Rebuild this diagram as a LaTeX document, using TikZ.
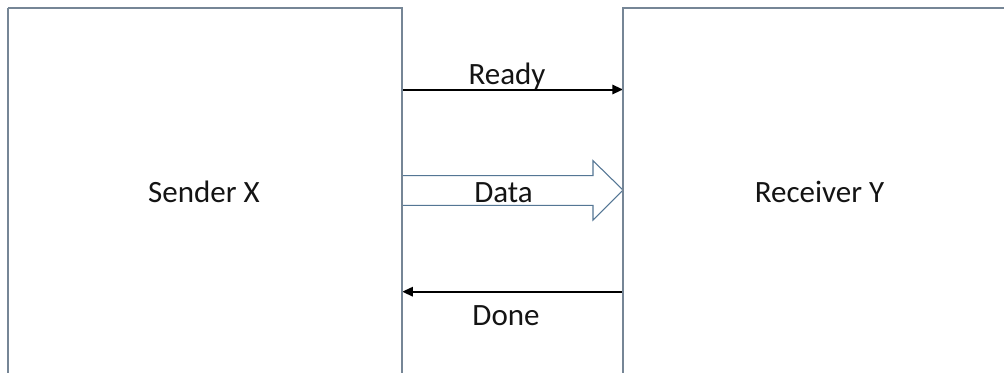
\documentclass[tikz,border=0pt]{standalone}
\usepackage{fontspec}
\setmainfont{Carlito}
\usetikzlibrary{arrows.meta}
\tikzset{
  boxline/.style={draw={rgb,255:red,118;green,134;blue,150}, line width=0.9pt},
  unitbox/.style={boxline, rectangle, inner sep=0pt, fill=none},
  lbl/.style={anchor=base, inner sep=0pt, font=\fontsize{23.25}{28}\selectfont, text={rgb,255:red,20;green,20;blue,20}},
  sig/.style={line width=1.5pt, -{Triangle[length=8pt,width=7pt]}},
  bus/.style={draw={rgb,255:red,84;green,118;blue,148}, line width=0.8pt, fill=white, line join=miter}
}
\begin{document}
\begin{tikzpicture}[x=0.75pt, y=-0.75pt]
  \fill[white] (0,0) rectangle (1004,372);
  \useasboundingbox (0,0) rectangle (1004,372);
  \clip (0,0) rectangle (1004,372);

  % the two units; their lower and right edges run past the frame
  \node[unitbox, minimum width=393*0.75pt, minimum height=380*0.75pt, anchor=north west] (sender) at (8,8) {};
  \node[unitbox, minimum width=420*0.75pt, minimum height=380*0.75pt, anchor=north west] (receiver) at (623,8) {};

  \node[lbl] (senderlbl) at (204,202) {Sender X};
  \node[lbl] (receiverlbl) at (819.5,202) {Receiver Y};

  % Ready: sender -> receiver
  \coordinate (readyA) at (sender.north east |- 0,89.5);
  \coordinate (readyB) at (receiver.north west |- 0,89.5);
  \draw[sig] (readyA) -- (readyB);
  \node[lbl] (readylbl) at (507,84) {Ready};

  % Data bus: hollow block arrow
  \coordinate (dataA) at (sender.north east |- 0,175.7);
  \coordinate (dataB) at (sender.north east |- 0,205.3);
  \coordinate (dataTip) at (receiver.north west |- 0,190);
  \draw[bus] (dataB) -- (593,205.3) -- (593,220) -- (dataTip) -- (593,160.7) -- (593,175.7) -- (dataA);
  \node[lbl] (datalbl) at (503.5,202.3) {Data};

  % Done: receiver -> sender
  \coordinate (doneA) at (receiver.north west |- 0,291.7);
  \coordinate (doneB) at (sender.north east |- 0,291.7);
  \draw[sig] (doneA) -- (doneB);
  \node[lbl] (donelbl) at (506,325) {Done};

  % redraw the unit edges on top of the connectors
  \draw[boxline] (sender.north west) -- (sender.north east) -- (sender.south east);
  \draw[boxline] (sender.north west) -- (sender.south west);
  \draw[boxline] (receiver.south west) -- (receiver.north west) -- (receiver.north east);
\end{tikzpicture}
\end{document}
